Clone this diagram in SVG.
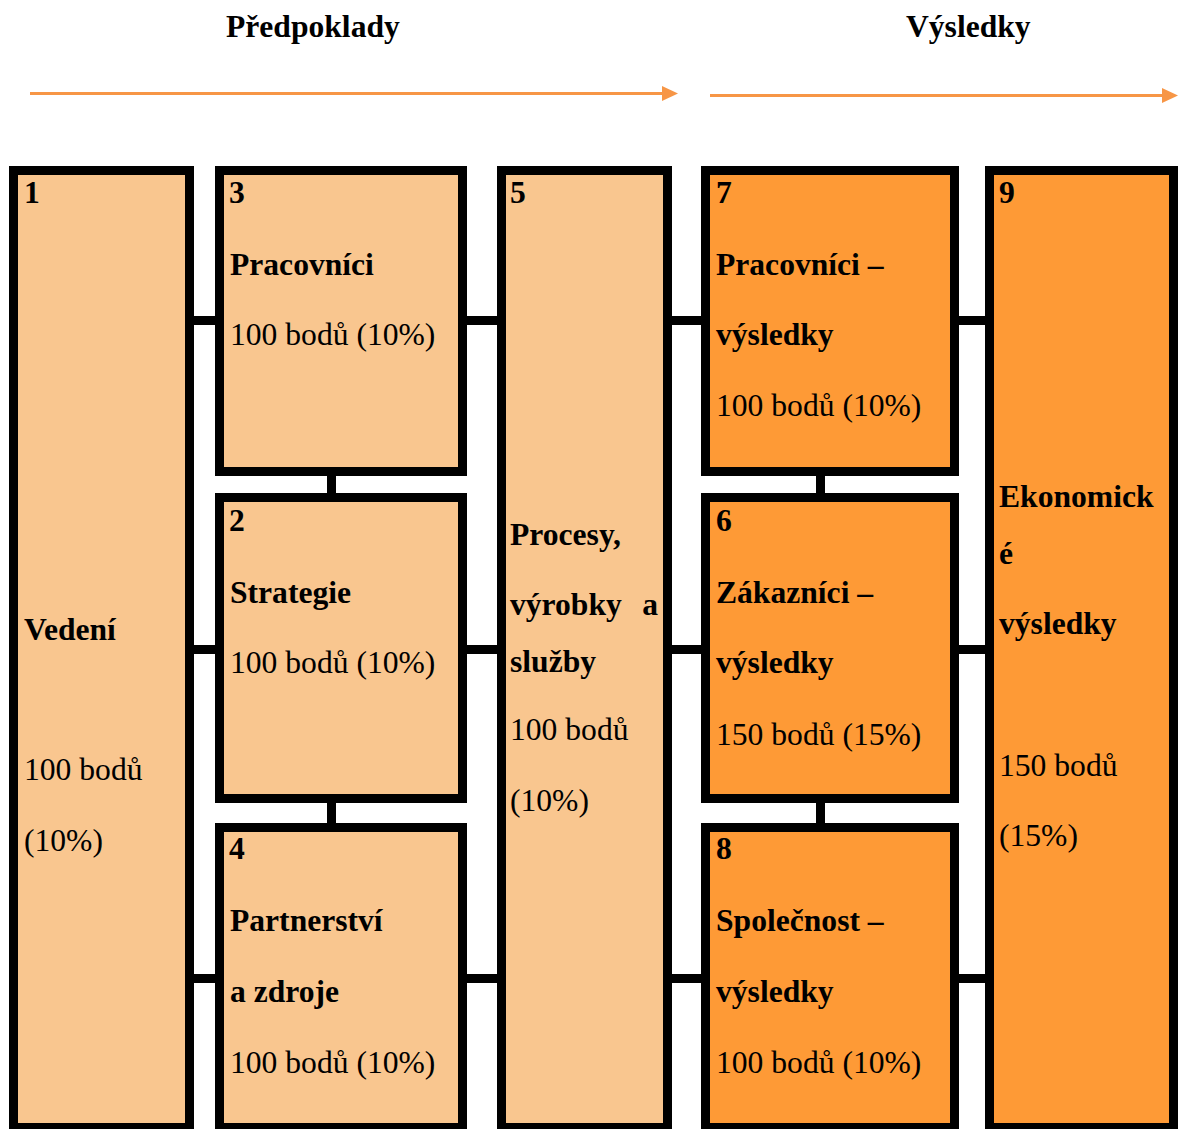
<svg xmlns="http://www.w3.org/2000/svg" width="1178" height="1129" viewBox="0 0 1178 1129">
  <style>
    .box { stroke: #000; stroke-width: 9; }
    .pre { fill: #F9C68F; }
    .res { fill: #FE9A36; }
    .link { stroke: #000; stroke-width: 9; fill: none; }
    .flow { stroke: #F79646; stroke-width: 3; fill: none; }
    .head { fill: #F79646; }
    text { font-family: "Liberation Serif", "Times New Roman", serif; font-size: 31.6px; fill: #000; }
    .b { font-weight: bold; }
  </style>

  <rect width="1178" height="1129" fill="#fff"/>

  <!-- section headings and direction arrows -->
  <g id="headings">
    <text class="b" x="226" y="37">Předpoklady</text>
    <text class="b" x="906" y="37">Výsledky</text>
    <line class="flow" x1="30" y1="93.5" x2="663" y2="93.5"/>
    <polygon class="head" points="662,86 678,93.5 662,101"/>
    <line class="flow" x1="710" y1="95.5" x2="1163" y2="95.5"/>
    <polygon class="head" points="1162,88 1178,95.5 1162,103"/>
  </g>

  <!-- connectors between the criteria boxes -->
  <g id="connectors">
    <line class="link" x1="190" y1="320.5" x2="220" y2="320.5"/>
    <line class="link" x1="190" y1="649.5" x2="220" y2="649.5"/>
    <line class="link" x1="190" y1="978.5" x2="220" y2="978.5"/>
    <line class="link" x1="463" y1="320.5" x2="502" y2="320.5"/>
    <line class="link" x1="463" y1="649.5" x2="502" y2="649.5"/>
    <line class="link" x1="463" y1="978.5" x2="502" y2="978.5"/>
    <line class="link" x1="668" y1="320.5" x2="706" y2="320.5"/>
    <line class="link" x1="668" y1="649.5" x2="706" y2="649.5"/>
    <line class="link" x1="668" y1="978.5" x2="706" y2="978.5"/>
    <line class="link" x1="955" y1="320.5" x2="990" y2="320.5"/>
    <line class="link" x1="955" y1="649.5" x2="990" y2="649.5"/>
    <line class="link" x1="955" y1="978.5" x2="990" y2="978.5"/>
    <line class="link" x1="331.5" y1="472" x2="331.5" y2="498"/>
    <line class="link" x1="331.5" y1="799" x2="331.5" y2="828"/>
    <line class="link" x1="820.5" y1="472" x2="820.5" y2="498"/>
    <line class="link" x1="820.5" y1="799" x2="820.5" y2="828"/>
  </g>

  <g id="node1">
    <rect class="box pre" x="13.5" y="170.5" width="176" height="957"/>
    <text class="b" x="24" y="203">1</text>
    <text class="b" x="24" y="640">Vedení</text>
    <text x="24" y="780">100 bodů</text>
    <text x="24" y="851">(10%)</text>
  </g>

  <g id="node3">
    <rect class="box pre" x="219.5" y="170.5" width="243" height="301"/>
    <text class="b" x="229" y="203">3</text>
    <text class="b" x="230" y="275">Pracovníci</text>
    <text x="230" y="345">100 bodů (10%)</text>
  </g>

  <g id="node2">
    <rect class="box pre" x="219.5" y="497.5" width="243" height="301"/>
    <text class="b" x="229" y="531">2</text>
    <text class="b" x="230" y="603">Strategie</text>
    <text x="230" y="673">100 bodů (10%)</text>
  </g>

  <g id="node4">
    <rect class="box pre" x="219.5" y="827.5" width="243" height="300"/>
    <text class="b" x="229" y="859">4</text>
    <text class="b" x="230" y="931">Partnerství</text>
    <text class="b" x="230" y="1002">a zdroje</text>
    <text x="230" y="1073">100 bodů (10%)</text>
  </g>

  <g id="node5">
    <rect class="box pre" x="501.5" y="170.5" width="166" height="957"/>
    <text class="b" x="510" y="203">5</text>
    <text class="b" x="510" y="545">Procesy,</text>
    <text class="b" x="510" y="615">výrobky</text>
    <text class="b" x="658" y="615" text-anchor="end">a</text>
    <text class="b" x="510" y="672">služby</text>
    <text x="510" y="740">100 bodů</text>
    <text x="510" y="811">(10%)</text>
  </g>

  <g id="node7">
    <rect class="box res" x="705.5" y="170.5" width="249" height="301"/>
    <text class="b" x="716" y="203">7</text>
    <text class="b" x="716" y="275">Pracovníci –</text>
    <text class="b" x="716" y="345">výsledky</text>
    <text x="716" y="416">100 bodů (10%)</text>
  </g>

  <g id="node6">
    <rect class="box res" x="705.5" y="497.5" width="249" height="301"/>
    <text class="b" x="716" y="531">6</text>
    <text class="b" x="716" y="603">Zákazníci –</text>
    <text class="b" x="716" y="673">výsledky</text>
    <text x="716" y="745">150 bodů (15%)</text>
  </g>

  <g id="node8">
    <rect class="box res" x="705.5" y="827.5" width="249" height="300"/>
    <text class="b" x="716" y="859">8</text>
    <text class="b" x="716" y="931">Společnost –</text>
    <text class="b" x="716" y="1002">výsledky</text>
    <text x="716" y="1073">100 bodů (10%)</text>
  </g>

  <g id="node9">
    <rect class="box res" x="989.5" y="170.5" width="184" height="957"/>
    <text class="b" x="999" y="203">9</text>
    <text class="b" x="999" y="507">Ekonomick</text>
    <text class="b" x="999" y="564">é</text>
    <text class="b" x="999" y="634">výsledky</text>
    <text x="999" y="776">150 bodů</text>
    <text x="999" y="846">(15%)</text>
  </g>
</svg>
